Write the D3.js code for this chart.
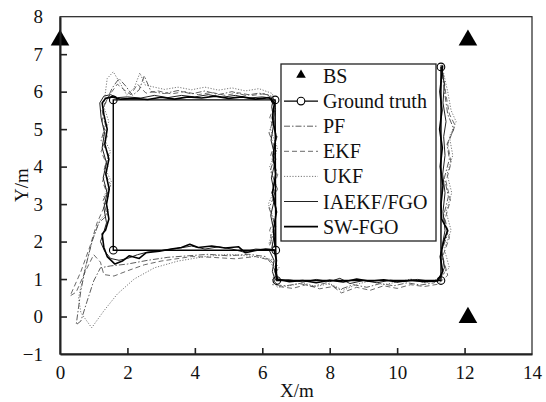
<!DOCTYPE html>
<html>
<head>
<meta charset="utf-8">
<script src="https://cdn.jsdelivr.net/npm/d3@7"></script>
</head>
<body style="margin:0">
<svg id="chart" width="546" height="402"></svg>
<script>
// Base stations (triangles)
const baseStations = [[0, 7.4], [12.1, 7.4], [12.1, 0.0]];

// Ground-truth route and its corner checkpoints
const truthPath = [[6.40, 1.77], [6.38, 5.78], [1.58, 5.78], [1.58, 1.77], [6.40, 1.77],
                   [6.43, 0.96], [11.30, 0.96], [11.30, 6.66]];

// Estimated trajectories
const pfPath = [
  [6.22,1.90],[6.40,2.40],[6.20,2.90],[6.45,3.40],[6.24,3.90],[6.42,4.40],[6.20,4.90],[6.38,5.40],[6.25,5.90],
  [5.90,5.96],[5.50,5.90],[5.10,6.00],[4.70,5.92],[4.30,6.02],[3.90,5.94],[3.50,6.03],[3.10,5.95],[2.70,6.00],
  [2.50,6.42],[2.35,6.05],[2.15,5.90],[1.95,6.15],[1.75,6.35],[1.55,6.10],[1.40,5.80],[1.25,5.50],
  [1.35,5.10],[1.22,4.70],[1.45,4.30],[1.30,3.90],[1.50,3.50],[1.28,3.10],[1.40,2.70],[1.15,2.50],
  [0.95,2.00],[0.78,1.40],[0.62,0.70],[0.48,-0.22],[0.62,-0.12],[0.80,0.40],[1.00,0.95],[1.20,1.30],
  [1.50,1.35],[2.00,1.40],[2.60,1.50],[3.20,1.58],[3.80,1.62],[4.40,1.66],[5.00,1.62],[5.60,1.66],[6.10,1.60],
  [6.28,1.40],[6.45,1.10],[6.30,0.85],
  [6.70,0.82],[7.10,0.88],[7.50,0.80],[7.90,0.90],[8.30,0.72],[8.70,0.85],[9.10,0.78],[9.50,0.88],
  [9.90,0.82],[10.30,0.90],[10.70,0.84],[11.10,0.90],
  [11.45,1.20],[11.30,1.70],[11.50,2.20],[11.38,2.70],[11.52,3.20],[11.40,3.70],[11.55,4.20],[11.48,4.60],
  [11.68,5.00],[11.50,5.40],[11.42,5.90],[11.35,6.40],[11.30,6.70]
];

const ekfPath = [
  [6.32,1.85],[6.22,2.30],[6.44,2.80],[6.28,3.30],[6.46,3.80],[6.25,4.30],[6.44,4.80],[6.22,5.30],[6.40,5.75],
  [6.10,5.95],[5.70,5.90],[5.30,5.97],[4.90,5.90],[4.50,5.98],[4.10,5.92],[3.70,6.00],[3.30,5.94],[2.90,6.02],
  [2.55,5.96],[2.30,6.20],[2.10,5.92],[1.90,6.05],[1.70,6.20],[1.50,5.95],[1.32,5.65],
  [1.25,5.20],[1.40,4.80],[1.22,4.40],[1.42,4.00],[1.26,3.60],[1.44,3.20],[1.25,2.80],[1.10,2.50],
  [0.90,1.90],[0.62,1.20],[0.30,0.55],[0.48,0.65],[0.75,1.20],[1.00,1.65],[1.20,1.45],[1.30,1.12],
  [1.60,1.08],[2.00,1.22],[2.50,1.38],[3.00,1.48],[3.90,1.60],[4.50,1.58],[5.20,1.54],[5.80,1.60],[6.25,1.50],
  [6.45,1.25],[6.35,0.95],[6.50,0.80],
  [6.90,0.75],[7.30,0.85],[7.70,0.74],[8.10,0.80],[8.35,0.63],[8.80,0.78],[9.20,0.70],[9.60,0.82],
  [10.00,0.75],[10.40,0.85],[10.80,0.80],[11.20,0.86],
  [11.50,1.10],[11.35,1.60],[11.55,2.10],[11.42,2.60],[11.58,3.10],[11.45,3.60],[11.60,4.10],[11.50,4.60],
  [11.72,5.10],[11.55,5.40],[11.45,5.90],[11.38,6.40],[11.32,6.70]
];

const ukfPath = [
  [6.20,1.95],[6.38,2.50],[6.18,3.00],[6.42,3.50],[6.22,4.00],[6.45,4.50],[6.24,5.00],[6.40,5.50],[6.30,5.95],
  [5.90,6.08],[5.50,6.02],[5.10,6.10],[4.70,6.04],[4.30,6.12],[3.90,6.05],[3.50,6.12],[3.10,6.06],[2.70,6.14],
  [2.52,6.18],[2.37,6.50],[2.20,6.10],[1.98,5.91],[1.80,6.20],[1.58,6.53],[1.40,6.35],[1.35,6.00],[1.30,5.60],
  [1.45,5.20],[1.28,4.80],[1.50,4.40],[1.32,4.00],[1.52,3.60],[1.30,3.20],[1.45,2.80],[1.20,2.60],
  [0.98,2.10],[0.75,1.30],[0.55,0.50],[0.62,0.10],[0.94,-0.30],[1.30,0.15],[1.70,0.60],[2.20,1.00],
  [2.80,1.30],[3.50,1.48],[4.30,1.60],[5.00,1.66],[5.80,1.60],[6.30,1.52],
  [6.50,1.30],[6.30,1.00],[6.45,0.78],
  [6.80,0.82],[7.20,0.90],[7.60,0.80],[8.00,0.88],[8.40,0.70],[8.80,0.86],[9.20,0.95],[9.60,0.85],
  [10.00,0.92],[10.40,1.00],[10.80,0.90],[11.15,0.98],
  [11.55,1.30],[11.40,1.80],[11.60,2.30],[11.45,2.80],[11.62,3.30],[11.48,3.80],[11.65,4.30],[11.55,4.80],
  [11.75,5.20],[11.60,5.50],[11.50,6.00],[11.40,6.40],[11.33,6.72]
];

const iaekfPath = [
  [6.28,1.82],[6.36,2.20],[6.25,2.70],[6.38,3.20],[6.27,3.70],[6.40,4.20],[6.26,4.70],[6.35,5.20],[6.28,5.60],[6.33,5.82],
  [6.00,5.86],[5.60,5.83],[5.20,5.90],[4.80,5.85],[4.40,5.92],[4.00,5.86],[3.60,5.90],[3.20,5.84],[2.80,5.90],
  [2.40,5.83],[2.00,5.86],[1.70,5.84],[1.50,5.92],[1.30,5.88],[1.18,5.70],
  [1.22,5.30],[1.32,4.90],[1.25,4.50],[1.38,4.10],[1.28,3.70],[1.40,3.30],[1.30,2.90],[1.38,2.50],[1.28,2.20],
  [1.20,2.00],[1.32,1.75],[1.50,1.55],[1.75,1.50],[2.00,1.55],[2.30,1.65],[2.60,1.72],[3.00,1.76],[3.50,1.82],
  [3.90,1.88],[4.30,1.80],[4.70,1.86],[5.10,1.80],[5.45,1.72],[5.80,1.80],[6.20,1.78],
  [6.35,1.50],[6.30,1.20],[6.38,0.98],
  [6.80,0.98],[7.20,0.92],[7.60,0.99],[8.00,0.93],[8.30,1.02],[8.60,0.88],[9.00,0.96],[9.40,0.90],
  [9.80,0.97],[10.20,0.93],[10.60,0.99],[11.00,0.94],[11.25,0.98],
  [11.40,1.30],[11.32,1.80],[11.42,2.30],[11.36,2.80],[11.42,3.30],[11.35,3.80],[11.42,4.30],[11.38,4.80],
  [11.45,5.20],[11.36,5.70],[11.40,6.20],[11.30,6.70]
];

const swfgoPath = [
  [6.38,1.85],[6.33,2.30],[6.42,2.80],[6.30,3.30],[6.40,3.80],[6.32,4.30],[6.41,4.80],[6.30,5.30],[6.36,5.70],
  [6.20,5.84],[5.80,5.80],[5.40,5.86],[5.00,5.82],[4.60,5.88],[4.20,5.83],[3.80,5.86],[3.40,5.80],[3.00,5.85],
  [2.60,5.79],[2.20,5.82],[1.80,5.80],[1.55,5.86],[1.35,5.82],[1.25,5.70],
  [1.30,5.40],[1.40,5.00],[1.33,4.60],[1.45,4.20],[1.36,3.80],[1.46,3.40],[1.38,3.00],[1.45,2.60],[1.35,2.30],
  [1.25,2.20],[1.30,1.85],[1.40,1.60],[1.63,1.40],[1.85,1.48],[2.05,1.62],[2.35,1.55],[2.55,1.70],[2.95,1.74],
  [3.30,1.80],[3.60,1.84],[3.85,1.93],[4.10,1.84],[4.50,1.88],[4.90,1.83],[5.30,1.86],[5.50,1.70],[5.80,1.76],
  [6.10,1.80],[6.35,1.78],
  [6.42,1.50],[6.38,1.20],[6.45,1.00],
  [6.80,0.93],[7.20,0.96],[7.60,0.90],[8.00,0.97],[8.40,0.92],[8.80,1.00],[9.20,0.94],[9.60,0.98],
  [10.00,0.92],[10.40,0.97],[10.80,0.93],[11.20,0.95],
  [11.35,1.20],[11.28,1.60],[11.38,2.00],[11.50,2.30],[11.32,2.60],[11.30,3.00],[11.36,3.50],[11.28,4.00],
  [11.34,4.50],[11.26,5.00],[11.33,5.50],[11.27,6.00],[11.32,6.40],[11.35,6.70]
];

// Axis ticks
const xTicks = [0, 2, 4, 6, 8, 10, 12, 14];
const yTicks = [-1, 0, 1, 2, 3, 4, 5, 6, 7, 8];

// Legend entries
const legendNames = ["BS", "Ground truth", "PF", "EKF", "UKF", "IAEKF/FGO", "SW-FGO"];

const FONT = "font-family:'Liberation Serif'";
const svg = d3.select("#chart");
const plot = { left: 60, right: 532, top: 16.7, bottom: 354 };

const x = d3.scaleLinear().domain([0, 14]).range([plot.left, plot.right]);
const y = d3.scaleLinear().domain([-1, 8]).range([plot.bottom, plot.top]);

const line = d3.line().x(d => x(d[0])).y(d => y(d[1])).curve(d3.curveLinear);

const styles = {
  PF:    { stroke: "#333", width: 0.8, dash: "6,2,1.5,2" },
  EKF:   { stroke: "#444", width: 0.8, dash: "5,3" },
  UKF:   { stroke: "#555", width: 0.8, dash: "1.2,1.6" },
  IAEKF: { stroke: "#222", width: 1.0, dash: null },
  SWFGO: { stroke: "#000", width: 1.6, dash: null },
  truth: { stroke: "#000", width: 1.4, dash: null }
};

// Plot frame (top/right sides)
svg.append("rect")
  .attr("x", plot.left).attr("y", plot.top)
  .attr("width", plot.right - plot.left).attr("height", plot.bottom - plot.top)
  .attr("fill", "none").attr("stroke", "#222").attr("stroke-width", 1.2);

// Trajectories
const series = [
  [pfPath, styles.PF], [ekfPath, styles.EKF], [ukfPath, styles.UKF],
  [iaekfPath, styles.IAEKF], [swfgoPath, styles.SWFGO]
];
series.forEach(([data, st]) => {
  svg.append("path").datum(data)
    .attr("d", line)
    .attr("fill", "none")
    .attr("stroke", st.stroke)
    .attr("stroke-width", st.width)
    .attr("stroke-linejoin", "round")
    .attr("stroke-dasharray", st.dash);
});

// Ground truth
svg.append("path").datum(truthPath)
  .attr("d", line).attr("fill", "none")
  .attr("stroke", styles.truth.stroke).attr("stroke-width", styles.truth.width);

const corners = truthPath.filter((p, i) => i !== 4);
svg.selectAll("circle.gt").data(corners).join("circle")
  .attr("class", "gt")
  .attr("cx", d => x(d[0])).attr("cy", d => y(d[1]))
  .attr("r", 3.8).attr("fill", "none")
  .attr("stroke", "#000").attr("stroke-width", 1.1);

// Base stations
const tri = d3.symbol().type(d3.symbolTriangle).size(150);
svg.selectAll("path.bs").data(baseStations).join("path")
  .attr("class", "bs")
  .attr("d", tri)
  .attr("transform", d => `translate(${x(d[0])},${y(d[1]) + 1})`)
  .attr("fill", "#000");

// Axes with inward ticks
const xAxis = svg.append("g")
  .attr("transform", `translate(0,${plot.bottom})`)
  .call(d3.axisBottom(x).tickValues(xTicks).tickSizeInner(-6).tickSizeOuter(0).tickPadding(12)
    .tickFormat(d3.format("d")));
const yAxis = svg.append("g")
  .attr("transform", `translate(${plot.left},0)`)
  .call(d3.axisLeft(y).tickValues(yTicks).tickSizeInner(-7).tickSizeOuter(0).tickPadding(17)
    .tickFormat(d => d < 0 ? "\u2212" + Math.abs(d) : d));

[xAxis, yAxis].forEach(g => {
  g.attr("font-family", null);
  g.select(".domain").attr("stroke", "#222").attr("stroke-width", 2);
  g.selectAll(".tick line").attr("stroke", "#222").attr("stroke-width", 1.6);
  g.selectAll(".tick text").attr("font-size", 19).attr("fill", "#111").attr("style", FONT);
});
xAxis.selectAll(".tick").filter(d => d === 0 || d === 14).select("line").remove();
yAxis.selectAll(".tick").filter(d => d === -1 || d === 8).select("line").remove();

// Axis titles
svg.append("text").attr("x", 297).attr("y", 397).attr("style", FONT)
  .attr("text-anchor", "middle").attr("font-size", 19).attr("fill", "#111").text("X/m");
svg.append("text").attr("style", FONT)
  .attr("transform", "translate(28,185) rotate(-90)")
  .attr("text-anchor", "middle").attr("font-size", 19).attr("fill", "#111").text("Y/m");

// Legend
const lg = svg.append("g");
lg.append("rect").attr("x", 281).attr("y", 64).attr("width", 155).attr("height", 177)
  .attr("fill", "#fff").attr("stroke", "#222").attr("stroke-width", 1.3);
const rowY = i => 76 + i * 25.1;
const sampleStyles = [null, styles.truth, styles.PF, styles.EKF, styles.UKF, styles.IAEKF, styles.SWFGO];
legendNames.forEach((name, i) => {
  const yy = rowY(i);
  if (i === 0) {
    lg.append("path").attr("d", d3.symbol().type(d3.symbolTriangle).size(40))
      .attr("transform", `translate(301,${yy - 1})`).attr("fill", "#000");
  } else {
    const st = sampleStyles[i];
    lg.append("line").attr("x1", 284).attr("x2", 318).attr("y1", yy).attr("y2", yy)
      .attr("stroke", st.stroke).attr("stroke-width", st.width)
      .attr("stroke-dasharray", st.dash);
    if (i === 1) {
      lg.append("circle").attr("cx", 301).attr("cy", yy).attr("r", 3.8)
        .attr("fill", "#fff").attr("stroke", "#000").attr("stroke-width", 1.1);
    }
  }
  lg.append("text").attr("x", 323).attr("y", yy).attr("dy", "0.35em").attr("style", FONT)
    .attr("font-size", 20).attr("fill", "#111").text(name);
});
</script>
</body>
</html>
